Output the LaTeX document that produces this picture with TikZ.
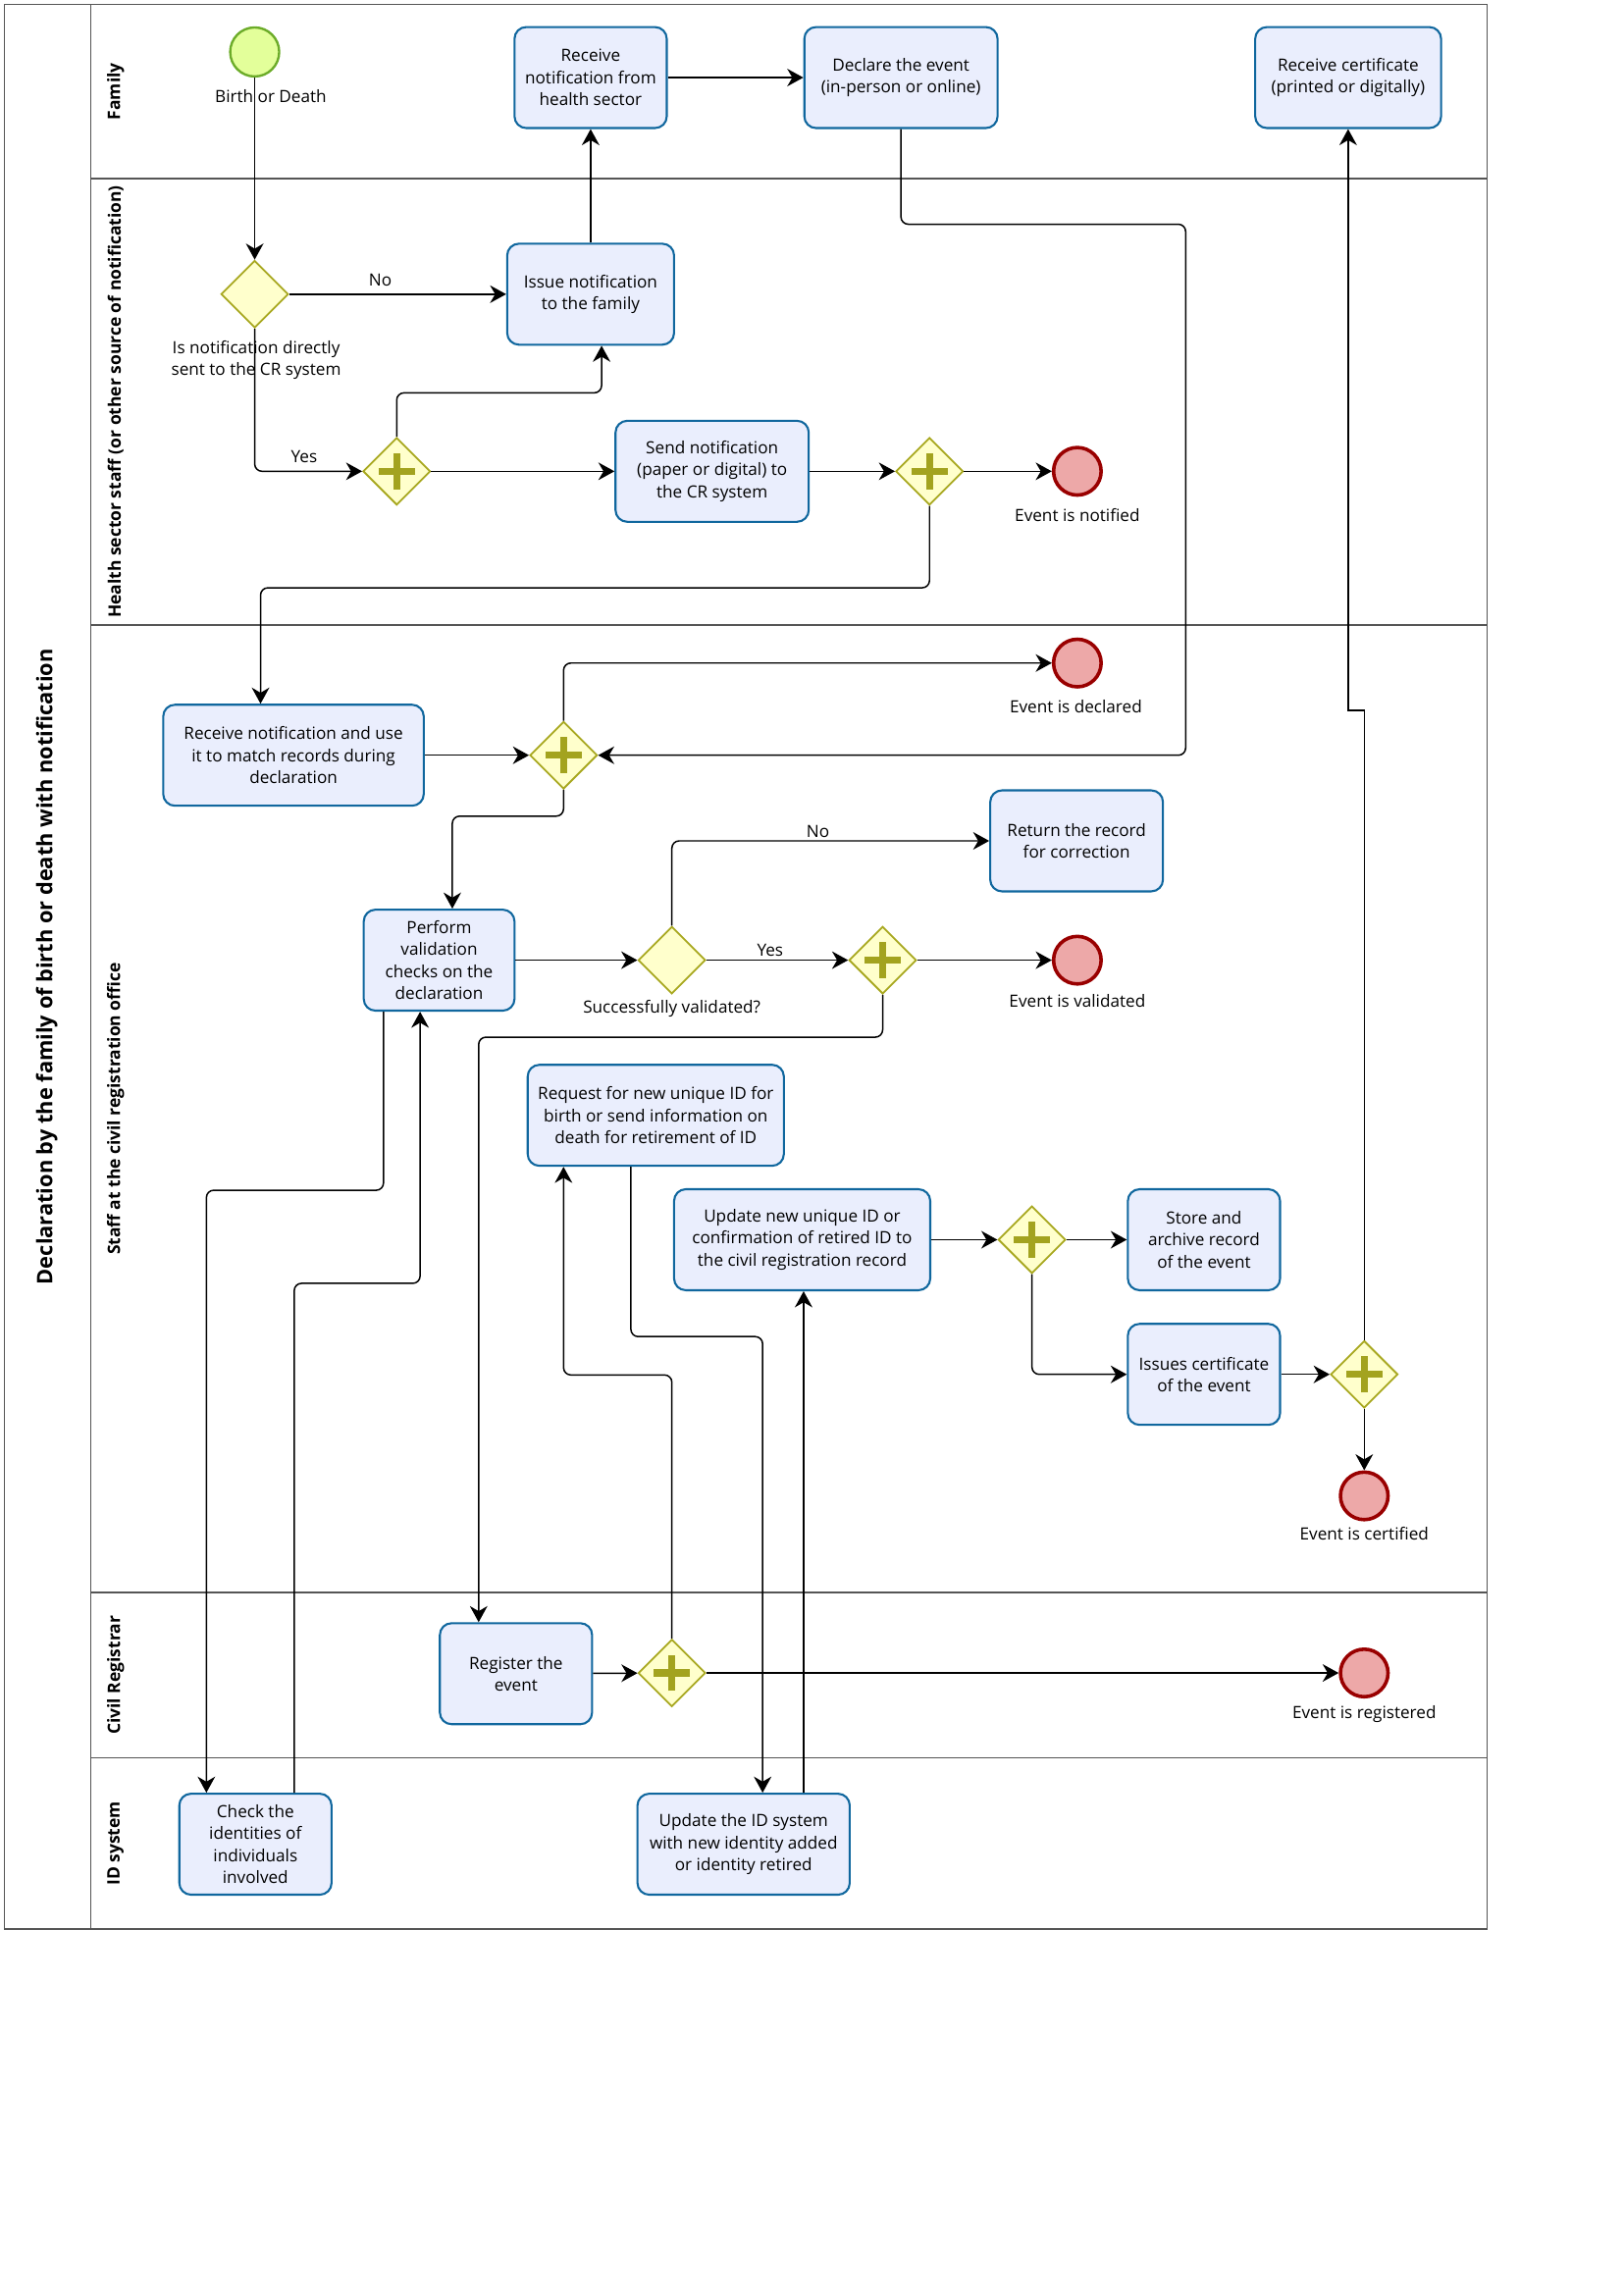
\documentclass[tikz,border=0pt]{standalone}
\usepackage{fontspec}
\setmainfont{Open Sans}
\usetikzlibrary{calc,positioning,shapes.geometric,arrows.meta}

\definecolor{taskfill}{HTML}{EAEEFD}
\definecolor{taskdraw}{HTML}{10679E}
\definecolor{gatefill}{HTML}{FFFFCC}
\definecolor{gatedraw}{HTML}{A8A820}
\definecolor{plusc}{HTML}{A3A31F}
\definecolor{startfill}{HTML}{E3FF9A}
\definecolor{startdraw}{HTML}{6CAC29}
\definecolor{endfill}{HTML}{EDA8A8}
\definecolor{enddraw}{HTML}{990000}
\definecolor{lanegray}{HTML}{555555}

\tikzset{
  txt/.style={font=\fontsize{11.5}{15}\selectfont},
  task/.style={txt, draw=taskdraw, fill=taskfill, line width=1.4pt,
    rounded corners=8pt, align=center, inner sep=2pt,
    minimum width=104pt, minimum height=69pt},
  xgate/.style={diamond, draw=gatedraw, fill=gatefill, line width=1.2pt,
    minimum width=46pt, minimum height=46pt, inner sep=0pt},
  pgate/.style={xgate, path picture={
      \draw [plusc, line width=4.9pt]
        ([xshift=-12.25pt]path picture bounding box.center) --
        ([xshift=12.25pt]path picture bounding box.center);
      \draw [plusc, line width=4.9pt]
        ([yshift=-12.25pt]path picture bounding box.center) --
        ([yshift=12.25pt]path picture bounding box.center);}},
  startev/.style={circle, draw=startdraw, fill=startfill, line width=1.6pt,
    minimum size=33.5pt, inner sep=0pt},
  endev/.style={circle, draw=enddraw, fill=endfill, line width=2.4pt,
    minimum size=32.5pt, inner sep=0pt},
  lbl/.style={txt, align=center, inner sep=1pt},
  flow/.style={-{Stealth[length=11pt,width=12pt,inset=3.5pt]}, line width=1pt,
    rounded corners=5pt},
  lanec/.style={draw=lanegray, line width=1.2pt},
  lanetitle/.style={font=\bfseries\fontsize{11.7}{13}\selectfont, rotate=90},
}

\begin{document}
\begin{tikzpicture}[x=1pt, y=-1pt]
    \useasboundingbox (0,0) rectangle (1108.8,1568);

    % pool and lanes
    \draw [lanec] (3,3) rectangle (1016,1318);
    \draw [lanec] (62,3) -- (62,1318);
    \foreach \y in {122,427,1088,1201}
      \draw [lanec] (62,\y) -- (1016,\y);
    \node (pool) [font=\bfseries\fontsize{14.6}{17}\selectfont, rotate=90] at (32,660.5)
      {Declaration by the family of birth or death with notification};
    \node (lfam) [lanetitle] at (79,62.5) {Family};
    \node (lhealth) [lanetitle] at (79,274.5) {Health sector staff (or other source of notification)};
    \node (lcro) [lanetitle] at (79,757.5) {Staff at the civil registration office};
    \node (lreg) [lanetitle] at (79,1144.5) {Civil Registrar};
    \node (lid) [lanetitle] at (79,1259.5) {ID system};

    % family
    \node (start) [startev] at (174,35.5) {};
    \node (startlbl) [lbl] at (185,66) {Birth or Death};
    \node (recvhs) [task] at (403.5,53) {Receive\\notification from\\health sector};
    \node (declare) [task, minimum width=132pt] at (615.5,53) {Declare the event\\(in-person or online)};
    \node (recvcert) [task, minimum width=127pt] at (921,53) {Receive certificate\\(printed or digitally)};

    % health sector
    \node (gw1) [xgate] at (174,201) {};
    \node (gw1lbl) [lbl] at (175,246) {Is notification directly\\sent to the CR system};
    \node (issue) [task, minimum width=114pt] at (403.5,201) {Issue notification\\to the family};
    \node (pgw1) [pgate] at (271,322) {};
    \node (send) [task, minimum width=132pt] at (486.5,322) {Send notification\\(paper or digital) to\\the CR system};
    \node (pgw2) [pgate] at (635,322) {};
    \node (endnot) [endev] at (736,322) {};
    \node (endnotlbl) [lbl] at (736,352) {Event is notified};

    % civil registration office
    \node (recvmatch) [task, minimum width=178pt] at (200.5,516) {Receive notification and use\\it to match records during\\declaration};
    \node (pgw3) [pgate] at (385,516) {};
    \node (enddecl) [endev] at (736,453) {};
    \node (enddecllbl) [lbl] at (735,483) {Event is declared};
    \node (perform) [task, minimum width=103pt] at (300,656) {Perform\\validation\\checks on the\\declaration};
    \node (xgw2) [xgate] at (459,656) {};
    \node (xgw2lbl) [lbl] at (459,689) {Successfully validated?};
    \node (return) [task, minimum width=118pt] at (735.5,574.5) {Return the record\\for correction};
    \node (pgw4) [pgate] at (603,656) {};
    \node (endval) [endev] at (736,656) {};
    \node (endvallbl) [lbl] at (736,684) {Event is validated};
    \node (request) [task, minimum width=175pt] at (448,762) {Request for new unique ID for\\birth or send information on\\death for retirement of ID};
    \node (updrec) [task, minimum width=175pt] at (548,847) {Update new unique ID or\\confirmation of retired ID to\\the civil registration record};
    \node (pgw5) [pgate] at (705,847) {};
    \node (store) [task] at (822.5,847) {Store and\\archive record\\of the event};
    \node (issues) [task] at (822.5,939) {Issues certificate\\of the event};
    \node (pgw6) [pgate] at (932,939) {};
    \node (endcert) [endev] at (932,1022) {};
    \node (endcertlbl) [lbl] at (932,1048) {Event is certified};

    % civil registrar
    \node (register) [task] at (352.5,1143.5) {Register the\\event};
    \node (pgw7) [pgate] at (459,1143) {};
    \node (endreg) [endev] at (932,1143) {};
    \node (endreglbl) [lbl] at (932,1171) {Event is registered};

    % id system
    \node (check) [task] at (174.5,1260) {Check the\\identities of\\individuals\\involved};
    \node (updid) [task, minimum width=145pt] at (508,1260) {Update the ID system\\with new identity added\\or identity retired};

    % ports off the centre line
    \coordinate (issuein) at ($(issue.south)+(7.5,0)$);
    \coordinate (matchin) at ($(recvmatch.north)+(-22.5,0)$);
    \coordinate (declturn) at (810,516);
    \coordinate (perfin) at ($(perform.north)+(9,0)$);
    \coordinate (perfout) at ($(perform.south)+(-38,0)$);
    \coordinate (perfback) at ($(perform.south)+(-13,0)$);
    \coordinate (checkin) at ($(check.north)+(-33.5,0)$);
    \coordinate (checkout) at ($(check.north)+(26.5,0)$);
    \coordinate (regin) at ($(register.north)+(-25.5,0)$);
    \coordinate (reqin) at ($(request.south)+(-63,0)$);
    \coordinate (reqout) at ($(request.south)+(-17,0)$);
    \coordinate (updidin) at ($(updid.north)+(13,0)$);
    \coordinate (updidout) at ($(updid.north)+(41,0)$);

    % sequence flows
    \draw [flow] (start) -- (gw1);
    \draw [flow] (gw1) -- node (no1) [lbl, above=4pt, pos=0.42] {No} (issue);
    \draw [flow] (issue) -- (recvhs);
    \draw [flow] (gw1.south) |- node (yes1) [lbl, above=4pt, pos=0.73] {Yes} (pgw1.west);
    \draw [flow] (pgw1.north) -- ++(0,-30) -| (issuein);
    \draw [flow] (pgw1) -- (send);
    \draw [flow] (send) -- (pgw2);
    \draw [flow] (pgw2) -- (endnot);
    \draw [flow] (pgw2.south) -- ++(0,56) -| (matchin);
    \draw [flow] (recvhs) -- (declare);
    \draw [flow] (declare.south) -- ++(0,65) -| (declturn) -- (pgw3.east);
    \draw [flow] (recvmatch) -- (pgw3);
    \draw [flow] (pgw3.north) |- (enddecl);
    \draw [flow] (pgw3.south) -- ++(0,18) -| (perfin);
    \draw [flow] (perform) -- (xgw2);
    \draw [flow] (xgw2.north) |- node (no2) [lbl, above=1pt, pos=0.73] {No} (return);
    \draw [flow] (xgw2) -- node (yes2) [lbl, above=1pt, pos=0.45] {Yes} (pgw4);
    \draw [flow] (pgw4) -- (endval);
    \draw [flow] (pgw4.south) -- ++(0,29) -| (regin);
    \draw [flow] (perfout) -- ++(0,122) -| (checkin);
    \draw [flow] (checkout) -- ++(0,-348) -| (perfback);
    \draw [flow] (reqout) -- ++(0,116) -| (updidin);
    \draw [flow] (updidout) -- (updidout |- updrec.south);
    \draw [flow] (pgw7.north) -- ++(0,-180) -| (reqin);
    \draw [flow] (updrec) -- (pgw5);
    \draw [flow] (pgw5) -- (store);
    \draw [flow] (pgw5.south) |- (issues);
    \draw [flow] (issues) -- (pgw6);
    \draw [flow] (pgw6) -- (endcert);
    \draw [flow, rounded corners=0pt] (pgw6.north) -- ++(0,-430) -| (recvcert.south);
    \draw [flow] (register) -- (pgw7);
    \draw [flow] (pgw7) -- (endreg);
\end{tikzpicture}
\end{document}
